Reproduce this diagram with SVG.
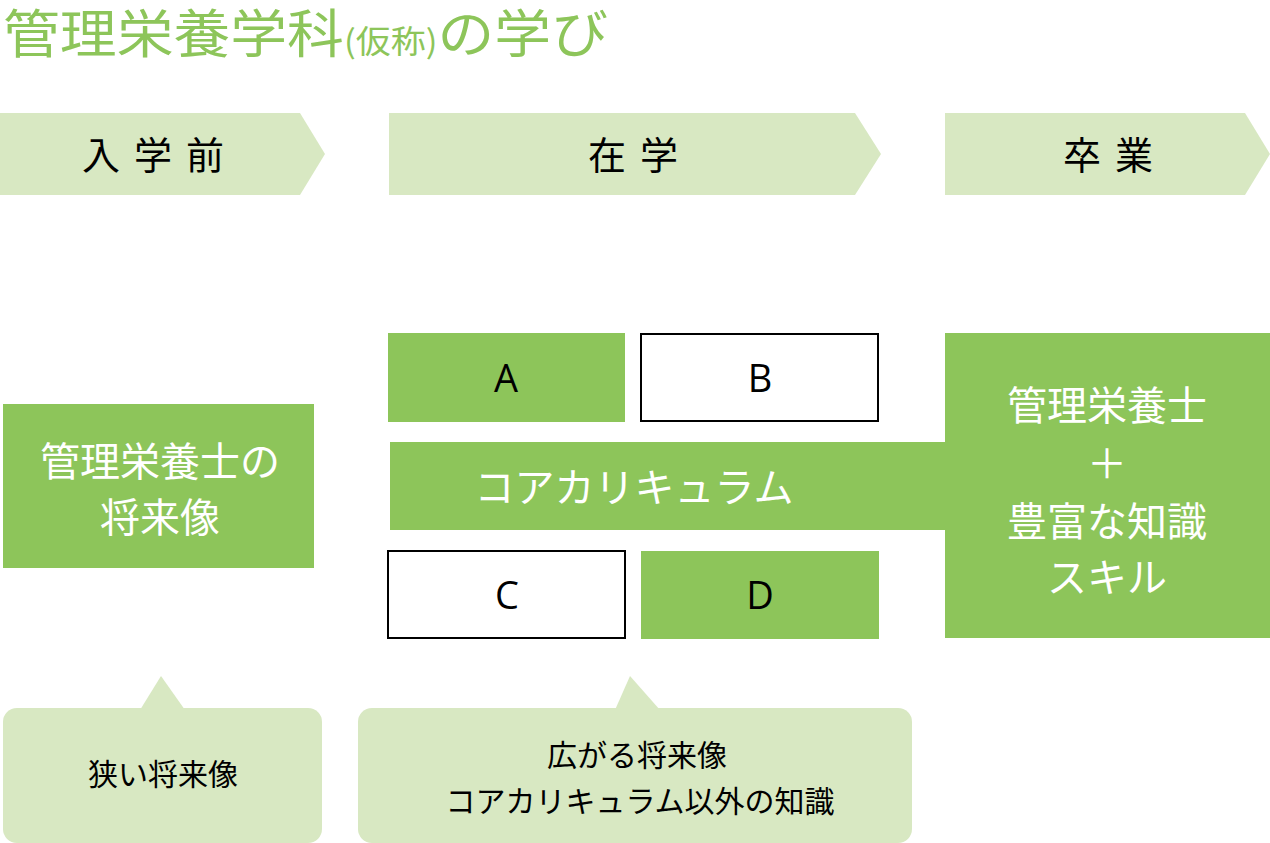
<svg xmlns="http://www.w3.org/2000/svg" width="1270" height="843" viewBox="0 0 1270 843">
<style>
text{font-family:"Noto Sans CJK JP","Noto Sans",sans-serif;text-anchor:middle}
.g{fill:#8dc55a}.l{fill:#d8e8c2}.w{fill:#fff;stroke:#000;stroke-width:2}
.h{font-size:38px;fill:#000}.wt{font-size:40px;fill:#fff}.b{font-size:38px;fill:#000;font-family:"Open Sans","Noto Sans",sans-serif}.s{font-size:30px;fill:#000}
</style>
<rect width="1270" height="843" fill="#fff"/>
<text x="3" y="53" style="text-anchor:start;font-size:52px;fill:#8dc55a" textLength="605" lengthAdjust="spacingAndGlyphs">管理栄養学科<tspan font-size="32px">(仮称)</tspan>の学び</text>
<g id="phase1"><polygon class="l" points="0,113 300,113 325,154 300,195 0,195"/><text class="h" x="160" y="169" letter-spacing="14">入学前</text></g>
<g id="phase2"><polygon class="l" points="389,113 855,113 881,154 855,195 389,195"/><text class="h" x="640" y="169" letter-spacing="14">在学</text></g>
<g id="phase3"><polygon class="l" points="945,113 1245,113 1270,154 1245,195 945,195"/><text class="h" x="1115" y="169" letter-spacing="14">卒業</text></g>
<g id="future"><rect class="g" x="3" y="404" width="311" height="164"/><text class="wt" x="160" y="476">管理栄養士の</text><text class="wt" x="160" y="532">将来像</text></g>
<g id="A"><rect class="g" x="388" y="333" width="237" height="89"/><text class="b" x="506" y="392">A</text></g>
<g id="B"><rect class="w" x="641" y="334" width="237" height="87"/><text class="b" x="760" y="392">B</text></g>
<g id="core"><rect class="g" x="390" y="442" width="560" height="88"/><text class="wt" x="634" y="502">コアカリキュラム</text></g>
<g id="goal"><rect class="g" x="945" y="333" width="325" height="305"/><text class="wt" x="1107" y="420">管理栄養士</text><text class="wt" x="1107" y="478">＋</text><text class="wt" x="1107" y="536">豊富な知識</text><text class="wt" x="1107" y="592">スキル</text></g>
<g id="C"><rect class="w" x="388" y="551" width="237" height="87"/><text class="b" x="507" y="609">C</text></g>
<g id="D"><rect class="g" x="641" y="551" width="238" height="88"/><text class="b" x="760" y="609">D</text></g>
<g id="callout1"><polygon class="l" points="140,710 161,676 185,710"/><rect class="l" x="3" y="708" width="319" height="135" rx="14"/><text class="s" x="163" y="785">狭い将来像</text></g>
<g id="callout2"><polygon class="l" points="615,710 630,676 660,710"/><rect class="l" x="358" y="708" width="554" height="135" rx="14"/><text class="s" x="637" y="766">広がる将来像</text><text class="s" x="640" y="812">コアカリキュラム以外の知識</text></g>
<g id="connectors"/>
</svg>
